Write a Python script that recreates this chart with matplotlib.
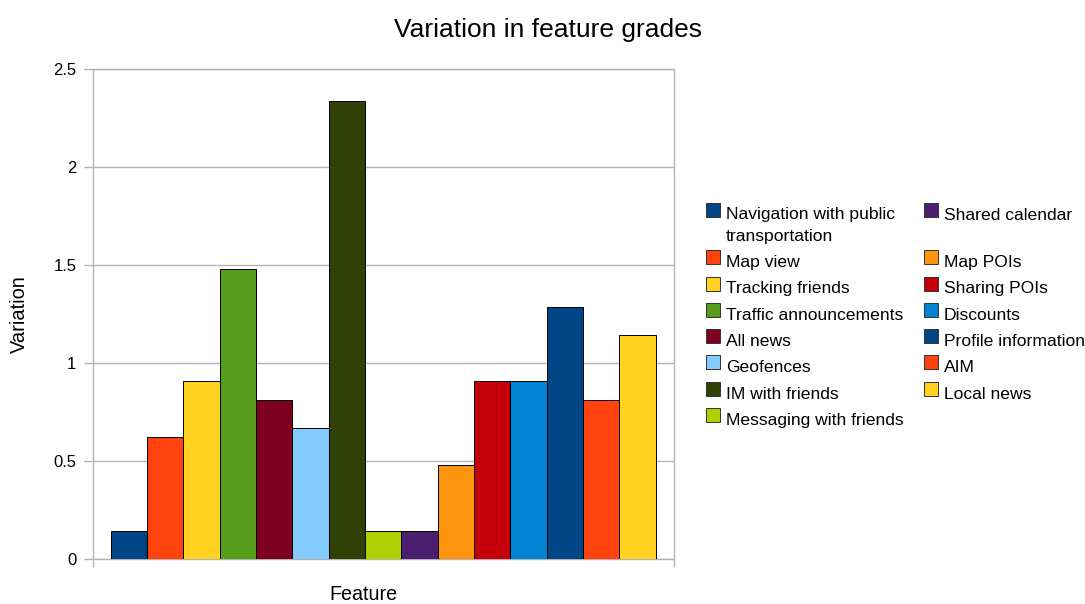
import matplotlib
matplotlib.use("Agg")
import matplotlib.pyplot as plt
from matplotlib.patches import Rectangle
from matplotlib.ticker import FuncFormatter

plt.rcParams["font.family"] = ["Liberation Sans", "DejaVu Sans"]

# Data
features = [
    "Navigation with public\ntransportation",
    "Map view",
    "Tracking friends",
    "Traffic announcements",
    "All news",
    "Geofences",
    "IM with friends",
    "Messaging with friends",
    "Shared calendar",
    "Map POIs",
    "Sharing POIs",
    "Discounts",
    "Profile information",
    "AIM",
    "Local news",
]
variation = [0.143, 0.619, 0.905, 1.476, 0.810, 0.667, 2.333, 0.143,
             0.143, 0.476, 0.905, 0.905, 1.286, 0.810, 1.143]
colors = ["#004586", "#ff420e", "#ffd320", "#579d1c", "#7e0021", "#83caff",
          "#314004", "#aecf00", "#4b1f6f", "#ff950e", "#c5000b", "#0084d1",
          "#004586", "#ff420e", "#ffd320"]
y_ticks = [0, 0.5, 1, 1.5, 2, 2.5]

W, H = 1085, 604
fig = plt.figure(figsize=(W / 100, H / 100), dpi=100)
fig.patch.set_facecolor("white")

def fx(px):
    return px / W

def fy(py):
    return 1 - py / H

ax = fig.add_axes([fx(92.7), fy(558.7), 581 / W, 490 / H])

n = len(variation)
group_w = 545 / 581
bar_w = group_w / n
xs = [-group_w / 2 + (i + 0.5) * bar_w for i in range(n)]
ax.bar(xs, variation, width=bar_w, color=colors, edgecolor="black",
       linewidth=0.7, zorder=3)

ax.set_xlim(-0.5, 0.5)
ax.set_ylim(y_ticks[0], y_ticks[-1])
ax.set_yticks(y_ticks)
ax.yaxis.set_major_formatter(FuncFormatter(lambda v, p: f"{v:g}"))
ax.set_xticks([-0.5, 0.5])
ax.set_xticklabels(["", ""])

grey = "#b3b3b3"
ax.set_axisbelow(True)
ax.yaxis.grid(True, color=grey, linewidth=1)
for s in ax.spines.values():
    s.set_color(grey)
    s.set_linewidth(1)
ax.tick_params(axis="y", direction="out", length=6.8, width=1, color=grey,
               pad=5, labelsize=12, labelcolor="black")
ax.tick_params(axis="x", direction="out", length=6, width=1, color=grey)

ax.set_ylabel("Variation", fontsize=14.4)
ax.yaxis.set_label_coords(-(92.7 - 28.5) / 581, 0.5)
ax.set_xlabel("Feature", fontsize=14.2, va="baseline")
ax.xaxis.set_label_coords((363 - 92.7) / 581, (558.7 - 600.5) / 490)

fig.text(fx(548), fy(36.7), "Variation in feature grades", fontsize=19,
         ha="center", va="baseline")

# Legend: two columns, first column holds the first eight series
col_split = 8
col_handle_x = [706, 924.3]
col_text_x = [726, 944]
line_gap = 21.4
for i, (name, c) in enumerate(zip(features, colors)):
    col = 0 if i < col_split else 1
    row = i if col == 0 else i - col_split
    base = 219.5 + 26.3 * row + (line_gap if row >= 1 else 0)
    fig.add_artist(Rectangle((fx(col_handle_x[col]), fy(base - 3)),
                             14 / W, 14 / H, transform=fig.transFigure,
                             facecolor=c, edgecolor="#333333", linewidth=0.7))
    for j, line in enumerate(name.split("\n")):
        fig.text(fx(col_text_x[col]), fy(base + line_gap * j), line,
                 fontsize=12.6, ha="left", va="baseline")

fig.savefig("out.png", dpi=100, facecolor="white")
